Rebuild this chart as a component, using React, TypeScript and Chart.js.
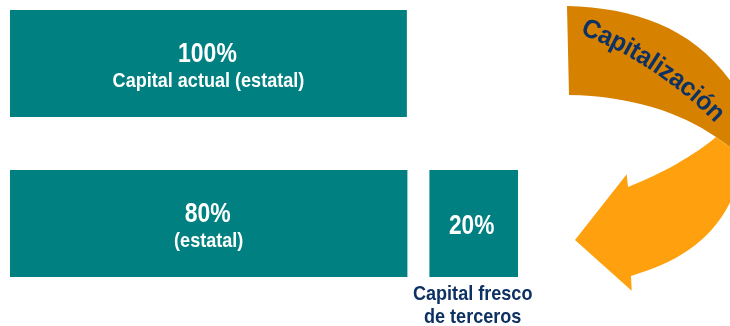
import React, { useEffect, useRef } from "react";
import { Chart, registerables } from "chart.js";

Chart.register(...registerables);

// ---- data ----
const rows = ["Capital actual", "Capital después"];
const estatalActual: (number | null)[] = [100, null];
const estatalNuevo: (number | null)[] = [null, 80];
const tercerosNuevo: (number | null)[] = [null, 20];
const percentLabels = ["100%", "80%", "20%"];
const subLabels = ["Capital actual (estatal)", "(estatal)", ""];
const tercerosCaption = ["Capital fresco", "de terceros"];
const arrowLabel = "Capitalización";

const TEAL = "#008080";
const NAVY = "#0E3164";
const DARK_ORANGE = "#D68100";
const LIGHT_ORANGE = "#FFA00F";
const FONT = "'Liberation Sans', Arial, sans-serif";

function drawScaledText(
  ctx: CanvasRenderingContext2D,
  text: string,
  x: number,
  y: number,
  size: number,
  sx: number,
  color: string
) {
  ctx.save();
  ctx.font = `bold ${size}px ${FONT}`;
  ctx.fillStyle = color;
  ctx.textAlign = "center";
  ctx.textBaseline = "alphabetic";
  ctx.translate(x, y);
  ctx.scale(sx, 1);
  ctx.fillText(text, 0, 0);
  ctx.restore();
}

const labelPlugin = {
  id: "labelPlugin",
  afterDatasetsDraw(chart: any) {
    const ctx: CanvasRenderingContext2D = chart.ctx;
    const items: { ds: number; idx: number; li: number }[] = [
      { ds: 0, idx: 0, li: 0 },
      { ds: 1, idx: 1, li: 1 },
      { ds: 2, idx: 1, li: 2 },
    ];
    items.forEach(({ ds, idx, li }) => {
      const el: any = chart.getDatasetMeta(ds).data[idx];
      if (!el) return;
      const bw: any = chart.data.datasets[ds].borderWidth || {};
      const left = Math.min(el.x, el.base) + (bw.left || 0);
      const right = Math.max(el.x, el.base) - (bw.right || 0);
      const cx = (left + right) / 2;
      const cy = el.y;
      if (subLabels[li]) {
        drawScaledText(ctx, percentLabels[li], cx - 1, cy - 1.5, 28, 0.82, "#ffffff");
        drawScaledText(ctx, subLabels[li], cx, cy + 23, 21, 0.86, "#ffffff");
      } else {
        drawScaledText(ctx, percentLabels[li], cx - 2, cy + 10.5, 27, 0.84, "#ffffff");
        const bottom = cy + el.height / 2;
        drawScaledText(ctx, tercerosCaption[0], cx - 1, bottom + 23, 21, 0.86, NAVY);
        drawScaledText(ctx, tercerosCaption[1], cx - 1, bottom + 46, 21, 0.86, NAVY);
      }
    });

    // ---- curved "Capitalización" arrow (decoration) ----
    ctx.save();
    ctx.fillStyle = DARK_ORANGE;
    ctx.beginPath();
    ctx.moveTo(567, 6);
    ctx.bezierCurveTo(640, 8, 700, 30, 740, 95);
    ctx.lineTo(745, 157.6);
    ctx.lineTo(716, 137.1);
    ctx.bezierCurveTo(680, 112, 630, 96, 569, 95);
    ctx.closePath();
    ctx.fill();

    ctx.fillStyle = LIGHT_ORANGE;
    ctx.beginPath();
    ctx.moveTo(716, 137.1);
    ctx.bezierCurveTo(695, 155, 660, 175, 628, 187);
    ctx.lineTo(626.7, 174.3);
    ctx.lineTo(575, 240);
    ctx.lineTo(631.7, 290.7);
    ctx.lineTo(631, 276);
    ctx.bezierCurveTo(680, 262, 725, 235, 740, 175);
    ctx.lineTo(745, 157.6);
    ctx.closePath();
    ctx.fill();

    // text along arc
    const cxA = 443, cyA = 387.5, r = 386.5;
    const size = 26, spacing = 0;
    ctx.font = `bold ${size}px ${FONT}`;
    ctx.fillStyle = NAVY;
    ctx.textAlign = "center";
    ctx.textBaseline = "middle";
    const chars = Array.from(arrowLabel);
    const widths = chars.map((c) => ctx.measureText(c).width * 0.95);
    const total = widths.reduce((a, b) => a + b, 0) + spacing * (chars.length - 1);
    const mid = (-56.5 * Math.PI) / 180;
    let acc = 0;
    chars.forEach((c, i) => {
      const th = mid + (acc + widths[i] / 2 - total / 2) / r;
      const px = cxA + r * Math.cos(th);
      const py = cyA + r * Math.sin(th);
      ctx.save();
      ctx.translate(px, py);
      ctx.rotate(th + Math.PI / 2);
      ctx.scale(0.95, 1);
      ctx.fillText(c, 0, 0);
      ctx.restore();
      acc += widths[i] + spacing;
    });
    ctx.restore();
  },
};

export default function App() {
  const ref = useRef<HTMLCanvasElement | null>(null);
  useEffect(() => {
    if (!ref.current) return;
    const chart = new Chart(ref.current, {
      type: "bar",
      data: {
        labels: rows,
        datasets: [
          {
            label: "Estatal (actual)",
            data: estatalActual,
            xAxisID: "x",
            backgroundColor: TEAL,
            borderWidth: 0,
          } as any,
          {
            label: "Estatal",
            data: estatalNuevo,
            xAxisID: "x2",
            backgroundColor: TEAL,
            borderColor: "#ffffff",
            borderWidth: { left: 0, right: 9, top: 0, bottom: 0 },
            borderSkipped: false,
          } as any,
          {
            label: "Terceros",
            data: tercerosNuevo,
            xAxisID: "x2",
            backgroundColor: TEAL,
            borderColor: "#ffffff",
            borderWidth: { left: 13, right: 0, top: 0, bottom: 0 },
            borderSkipped: false,
          } as any,
        ],
      },
      options: {
        indexAxis: "y",
        animation: false,
        responsive: true,
        maintainAspectRatio: false,
        datasets: {
          bar: {
            grouped: false,
            barThickness: 107,
            clip: false as any,
            inflateAmount: 0,
          } as any,
        },
        layout: { padding: { left: 10, right: 212, top: 63.5, bottom: 102.5 } },
        plugins: {
          legend: { display: false },
          tooltip: { enabled: false },
          title: { display: false },
        },
        scales: {
          y: { type: "category", offset: false, display: false, grid: { display: false } },
          x: { type: "linear", axis: "x", min: 0, max: 128, display: false, grid: { display: false } },
          x2: {
            type: "linear",
            axis: "x",
            min: 0,
            max: 100,
            stacked: true,
            display: false,
            grid: { display: false },
          },
        } as any,
      },
      plugins: [labelPlugin],
    });
    return () => chart.destroy();
  }, []);
  return (
    <div style={{ position: "absolute", left: 0, top: 0, width: 730, height: 326, background: "#ffffff" }}>
      <canvas ref={ref} />
    </div>
  );
}
